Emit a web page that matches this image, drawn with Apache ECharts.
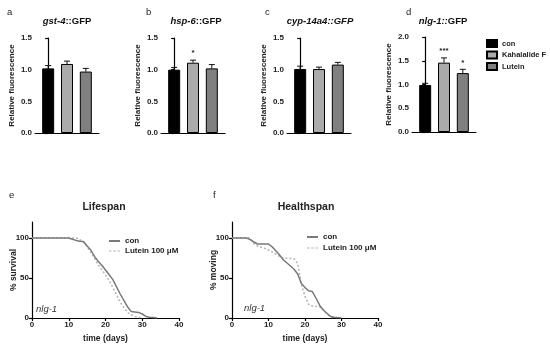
<!DOCTYPE html>
<html><head><meta charset="utf-8">
<script src="https://cdn.jsdelivr.net/npm/echarts@6/dist/echarts.min.js"></script>
<style>html,body{margin:0;padding:0;background:#fff}#c{width:550px;height:347px}</style>
</head><body><div id="c"></div>
<script>
// ---- Data ----
var groups = ['con', 'Kahalalide F', 'Lutein'];
var panelTitles = ['gst-4::GFP', 'hsp-6::GFP', 'cyp-14a4::GFP', 'nlg-1::GFP'];
var barCon = [1.02, 1.00, 1.01, 0.99];
var barKah = [1.09, 1.11, 1.01, 1.46];
var barLut = [0.97, 1.02, 1.08, 1.24];
var errCon = [0.045, 0.035, 0.045, 0.035];
var errKah = [0.045, 0.04, 0.03, 0.10];
var errLut = [0.05, 0.06, 0.035, 0.08];
var starKah = ['', '*', '', '***'];
var starLut = ['', '', '', '*'];
var barYMax = [1.5, 1.5, 1.5, 2.0];

var lifeCon = [[0,100],[10,100],[11,98.5],[12,97],[13,96],[14,95.5],[15,90],[16,85],[17,77],[18,71],[19,66],[20,60],[21,54],[22,48],[23,39],[24,30],[25,22],[26,14],[27,8],[28,7.5],[29,7],[30,5],[31,2],[32,1],[33,0.5],[34,0]];
var lifeLut = [[0,100],[12,100],[13,98],[14,95],[15,89],[16,82],[17,75],[18,67],[19,60],[20,54],[21,47],[22,38],[23,29],[24,20],[25,13],[26,7],[27,4],[28,2],[29,1],[30,0]];
var healthCon = [[0,100],[4,100],[5,98],[6,95],[7,92.5],[10,92.5],[11,89],[12,84],[13,79],[14,73],[15,69],[16,65],[17,61],[18,55],[19,43],[20,38],[21,34],[22,33],[23,25],[24,16],[25,10],[26,6],[27,2],[28,1],[30,0]];
var healthLut = [[0,100],[5,100],[6,93],[7,90],[9,87],[10,85],[12,80],[13,77],[14,75],[17,74],[18,68],[19,42],[20,27],[21,17],[22,15],[24,14],[25,10],[26,5],[27,1.5],[28,0]];
var survTicksY = [0, 50, 100];

// ---- Build ----
var FONT = 'Liberation Sans, Arial, sans-serif';
var barColors = ['#000000', '#ababab', '#808080'];
var gridsBar = [
  {left:35, top:38, width:64, height:95},
  {left:161, top:38, width:64, height:95},
  {left:287, top:38, width:64, height:95},
  {left:412, top:37, width:64, height:95}
];
var grids = gridsBar.concat([
  {left:32, top:222, width:147, height:96},
  {left:232, top:222, width:146, height:96}
]);
var xAxes = [], yAxes = [], series = [];
var axisLineStyle = {color:'#000', width:1.2};
var lblStyle = {color:'#222', fontFamily:FONT, fontWeight:'bold', fontSize:8};

for (var p = 0; p < 4; p++) {
  xAxes.push({gridIndex:p, type:'value', min:-0.7, max:2.7,
    axisLine:{show:true, onZero:false, lineStyle:axisLineStyle}, axisTick:{show:false},
    axisLabel:{show:false}, splitLine:{show:false}});
  yAxes.push({gridIndex:p, type:'value', min:0, max:barYMax[p], interval:0.5,
    name:'Relative fluorescence', nameLocation:'middle', nameGap:19,
    nameTextStyle:{color:'#222', fontFamily:FONT, fontWeight:'bold', fontSize:8},
    axisLine:{show:true, lineStyle:axisLineStyle},
    axisTick:{show:true, length:3, lineStyle:axisLineStyle},
    axisLabel:Object.assign({margin:3, formatter:function(v){return v.toFixed(1);}}, lblStyle),
    splitLine:{show:false}});
  var vals = [barCon[p], barKah[p], barLut[p]];
  var errs = [errCon[p], errKah[p], errLut[p]];
  for (var g = 0; g < 3; g++) {
    series.push({type:'bar', name:groups[g], xAxisIndex:p, yAxisIndex:p,
      barWidth:12, barGap:'-100%',
      itemStyle:{color:barColors[g], borderColor:'#000', borderWidth:1},
      data:[[g, vals[g]]]});
  }
  (function(pi){
    series.push({type:'custom', xAxisIndex:pi, yAxisIndex:pi, z:5,
      data:[[0, vals[0], errs[0]], [1, vals[1], errs[1]], [2, vals[2], errs[2]]],
      renderItem:function(params, api){
        var x = api.value(0), y = api.value(1), e = api.value(2);
        var p0 = api.coord([x, y]), p1 = api.coord([x, y + e]);
        var st = {stroke:'#111', lineWidth:1};
        var children = [
          {type:'line', shape:{x1:p0[0], y1:p0[1], x2:p1[0], y2:p1[1]}, style:st},
          {type:'line', shape:{x1:p1[0]-3, y1:p1[1], x2:p1[0]+3, y2:p1[1]}, style:st}
        ];
        var star = params.dataIndex === 1 ? starKah[pi] : (params.dataIndex === 2 ? starLut[pi] : '');
        if (star) children.push({type:'text', x:p1[0], y:p1[1]-3,
          style:{text:star, fill:'#222', font:'bold 8px ' + FONT, align:'center', verticalAlign:'bottom'}});
        return {type:'group', children:children};
      }});
  })(p);
}

var survNames = ['% survival', '% moving'];
var survData = [[lifeCon, lifeLut], [healthCon, healthLut]];
for (var s = 0; s < 2; s++) {
  var gi = 4 + s;
  xAxes.push({gridIndex:gi, type:'value', min:0, max:40, interval:10,
    name:'time (days)', nameLocation:'middle', nameGap:16,
    nameTextStyle:{color:'#222', fontFamily:FONT, fontWeight:'bold', fontSize:8.5},
    axisLine:{show:true, onZero:false, lineStyle:axisLineStyle},
    axisTick:{show:true, length:3, lineStyle:axisLineStyle},
    axisLabel:Object.assign({margin:3}, lblStyle), splitLine:{show:false}});
  yAxes.push({gridIndex:gi, type:'value', min:0, max:120, interval:50,
    name:survNames[s], nameLocation:'middle', nameGap:14, nameMoveOverlap:false,
    nameTextStyle:{color:'#222', fontFamily:FONT, fontWeight:'bold', fontSize:8.5},
    axisLine:{show:true, lineStyle:axisLineStyle},
    axisTick:{show:true, length:3, lineStyle:axisLineStyle, customValues:survTicksY},
    axisLabel:Object.assign({margin:3, customValues:survTicksY}, lblStyle), splitLine:{show:false}});
  series.push({type:'line', name:'con_l', xAxisIndex:gi, yAxisIndex:gi, symbol:'none',
    lineStyle:{color:'#7a7a7a', width:1.5}, itemStyle:{color:'#7a7a7a'}, data:survData[s][0], z:3});
  series.push({type:'line', name:'Lutein 100 μM', xAxisIndex:gi, yAxisIndex:gi, symbol:'none',
    lineStyle:{color:'#b4b4b4', width:1.5, type:[2,2]}, itemStyle:{color:'#b4b4b4'}, data:survData[s][1], z:2});
}

var richT = {
  i:{fontStyle:'italic', fontWeight:'bold', fontSize:9.5, fontFamily:FONT, color:'#111'},
  n:{fontWeight:'bold', fontSize:9.5, fontFamily:FONT, color:'#111'}
};
function tt(text, left, top){ return {text:text, left:left, top:top, textAlign:'center', textStyle:{fontSize:9.5, fontFamily:FONT, color:'#111', rich:richT}}; }
function lab(text, left, top){ return {text:text, left:left, top:top, textStyle:{fontSize:9.5, fontWeight:'normal', fontFamily:FONT, color:'#222'}}; }
var titles = [
  tt('{i|gst-4}{n|::GFP}', 67, 16),
  tt('{i|hsp-6}{n|::GFP}', 196, 16),
  tt('{i|cyp-14a4::GFP}', 320, 16),
  tt('{i|nlg-1::}{n|GFP}', 443, 16),
  lab('a', 7, 7), lab('b', 146, 7), lab('c', 265, 7), lab('d', 406, 7),
  lab('e', 9, 190), lab('f', 213, 190),
  {text:'Lifespan', left:104, top:202, textAlign:'center', textStyle:{fontSize:10.5, fontWeight:'bold', fontFamily:FONT, color:'#222'}},
  {text:'Healthspan', left:306, top:202, textAlign:'center', textStyle:{fontSize:10.5, fontWeight:'bold', fontFamily:FONT, color:'#222'}},
  {text:'nlg-1', left:36, top:304, textStyle:{fontSize:9.5, fontStyle:'italic', fontWeight:'normal', fontFamily:FONT, color:'#333'}},
  {text:'nlg-1', left:244, top:303, textStyle:{fontSize:9.5, fontStyle:'italic', fontWeight:'normal', fontFamily:FONT, color:'#333'}}
];
titles.forEach(function(t){ t.padding = 0; });

var legTxt = {color:'#222', fontFamily:FONT, fontWeight:'bold', fontSize:8};
var fmt = function(n){ return n.replace(/_l$/, ''); };
var dashIcon = 'path://M0,0h3v1h-3z M5,0h3v1h-3z M10,0h3v1h-3z';
var lineLegData = [{name:'con_l', icon:'rect'}, {name:'Lutein 100 μM', icon:dashIcon}];
var option = {
  animation:false,
  backgroundColor:'#fff',
  title:titles,
  grid:grids,
  xAxis:xAxes,
  yAxis:yAxes,
  legend:[
    {data:groups, icon:'rect', orient:'vertical', left:486, top:39, itemWidth:10, itemHeight:7, itemGap:2.5, padding:0, textStyle:Object.assign({}, legTxt, {fontSize:7.5}), selectedMode:false},
    {data:lineLegData, formatter:fmt, orient:'vertical', left:109, top:237, itemWidth:11, itemHeight:2, itemGap:2, padding:0, textStyle:legTxt, selectedMode:false},
    {data:lineLegData, formatter:fmt, orient:'vertical', left:307, top:233, itemWidth:11, itemHeight:2, itemGap:3, padding:0, textStyle:legTxt, selectedMode:false}
  ],
  series:series
};
var chart = echarts.init(document.getElementById('c'), null, {renderer:'canvas'});
chart.setOption(option);
</script></body></html>
